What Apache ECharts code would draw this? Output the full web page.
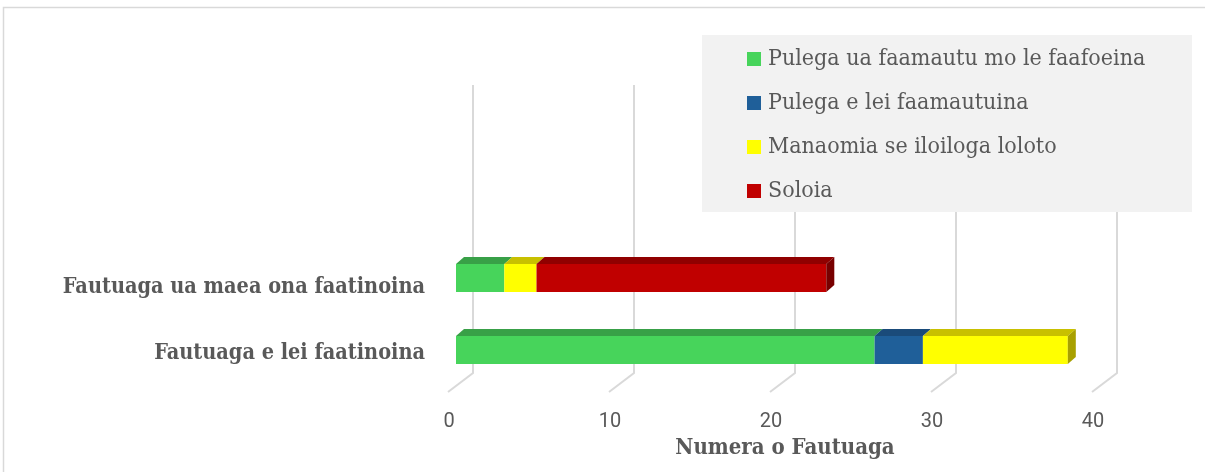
<!DOCTYPE html>
<html>
<head>
<meta charset="utf-8">
<script src="https://cdn.jsdelivr.net/npm/echarts@6/dist/echarts.min.js"></script>
<style>
html,body{margin:0;padding:0;background:#fff;}
#c{width:1205px;height:472px;}
</style>
</head>
<body>
<div id="c"></div>
<script>
// ---- data ----
const categories = ['Fautuaga e lei faatinoina', 'Fautuaga ua maea ona faatinoina'];
const seriesNames = ['Pulega ua faamautu mo le faafoeina', 'Pulega e lei faamautuina', 'Manaomia se iloiloga loloto', 'Soloia'];
const greenValues = [26, 3];
const blueValues = [3, 0];
const yellowValues = [9, 2];
const redValues = [0, 18];
const xTicks = [0, 10, 20, 30, 40];
const axisTitle = 'Numera o Fautuaga';

// ---- styles ----
const SERIF = '"DejaVu Serif Condensed", "DejaVu Serif", serif';
const faceColors = [
  {front: '#47D45B', top: '#38A047', side: '#2F8A3C'},
  {front: '#1F5F99', top: '#1A4B7A', side: '#153D63'},
  {front: '#FFFF00', top: '#C8C000', side: '#A8A000'},
  {front: '#C00000', top: '#900000', side: '#780000'}
];
const DX = 8, DY = -7;

const allValues = [greenValues, blueValues, yellowValues, redValues];
const totals = categories.map((c, i) => allValues.reduce((s, a) => s + a[i], 0));

function buildSeries(si) {
  const data = categories.map((c, ci) => {
    let start = 0;
    for (let k = 0; k < si; k++) start += allValues[k][ci];
    return [start, start + allValues[si][ci], ci];
  });
  const col = faceColors[si];
  return {
    type: 'custom',
    name: seriesNames[si],
    itemStyle: {color: col.front},
    z: 3,
    encode: {x: [0, 1], y: 2},
    data: data,
    renderItem: function (params, api) {
      const s = api.value(0), e = api.value(1), ci = api.value(2);
      if (e - s <= 0) return null;
      const p0 = api.coord([s, ci]);
      const p1 = api.coord([e, ci]);
      const bw = api.size([0, 1])[1] * 0.39;
      const x0 = p0[0], x1 = p1[0];
      const y0 = p0[1] - bw / 2, y1 = p0[1] + bw / 2;
      const children = [
        {type: 'polygon', shape: {points: [[x0, y0], [x1, y0], [x1 + DX, y0 + DY], [x0 + DX, y0 + DY]]}, style: {fill: col.top}},
        {type: 'rect', shape: {x: x0, y: y0, width: x1 - x0, height: y1 - y0}, style: {fill: col.front}}
      ];
      if (Math.abs(e - totals[ci]) < 1e-9) {
        children.push({type: 'polygon', shape: {points: [[x1, y0], [x1 + DX, y0 + DY], [x1 + DX, y1 + DY], [x1, y1]]}, style: {fill: col.side}});
      }
      return {type: 'group', children: children};
    }
  };
}

const gridSeries = {
  type: 'custom',
  name: '_grid',
  silent: true,
  z: 1,
  data: xTicks.map(v => [v]),
  encode: {x: 0},
  renderItem: function (params, api) {
    const cs = params.coordSys;
    const x = api.coord([api.value(0), 0])[0];
    const top = cs.y - 157, bot = cs.y + cs.height - 13;
    return {
      type: 'polyline',
      shape: {points: [[x + 17, top], [x + 17, bot], [x - 8, bot + 19]]},
      style: {stroke: '#D9D9D9', lineWidth: 2, fill: null}
    };
  }
};

const catLabelBase = {fontFamily: SERIF, fontWeight: 'bold', fontSize: 21.5, color: '#595959'};

const chart = echarts.init(document.getElementById('c'), null, {renderer: 'canvas'});
chart.setOption({
  animation: false,
  backgroundColor: '#fff',
  graphic: [
    {type: 'rect', z: 0, shape: {x: 3.5, y: 7.5, width: 1220, height: 480}, style: {fill: null, stroke: '#D9D9D9', lineWidth: 1.5}},
    {type: 'rect', z: 10, shape: {x: 702, y: 35, width: 490, height: 177}, style: {fill: '#F2F2F2'}}
  ],
  legend: {
    z: 20,
    data: seriesNames,
    orient: 'vertical',
    left: 742,
    top: 42,
    icon: 'rect',
    itemWidth: 14,
    itemHeight: 14,
    itemGap: 20,
    textStyle: {fontFamily: SERIF, fontSize: 23, color: '#595959', lineHeight: 24, padding: [0, 0, 0, 2]}
  },
  grid: {left: 456, top: 242, width: 644, height: 144},
  xAxis: {
    type: 'value',
    min: 0, max: 40, interval: 10,
    axisLine: {show: false}, axisTick: {show: false}, splitLine: {show: false},
    axisLabel: {fontFamily: 'Roboto', fontSize: 20, color: '#595959', margin: 26, padding: [0, 14, 0, 0]},
    name: axisTitle,
    nameLocation: 'middle',
    nameGap: 51,
    nameTextStyle: {fontFamily: SERIF, fontWeight: 'bold', fontSize: 22, color: '#595959', padding: [0, 0, 0, 14]}
  },
  yAxis: {
    type: 'category',
    data: categories,
    axisLine: {show: false}, axisTick: {show: false}, splitLine: {show: false},
    axisLabel: {
      margin: 31,
      formatter: function (v, i) { return i === 1 ? '{b|' + v + '}' : '{a|' + v + '}'; },
      rich: {
        a: Object.assign({padding: [6, 0, 0, 0]}, catLabelBase),
        b: Object.assign({padding: [18, 0, 0, 0]}, catLabelBase)
      }
    }
  },
  series: [gridSeries, buildSeries(0), buildSeries(1), buildSeries(2), buildSeries(3)]
});
</script>
</body>
</html>
